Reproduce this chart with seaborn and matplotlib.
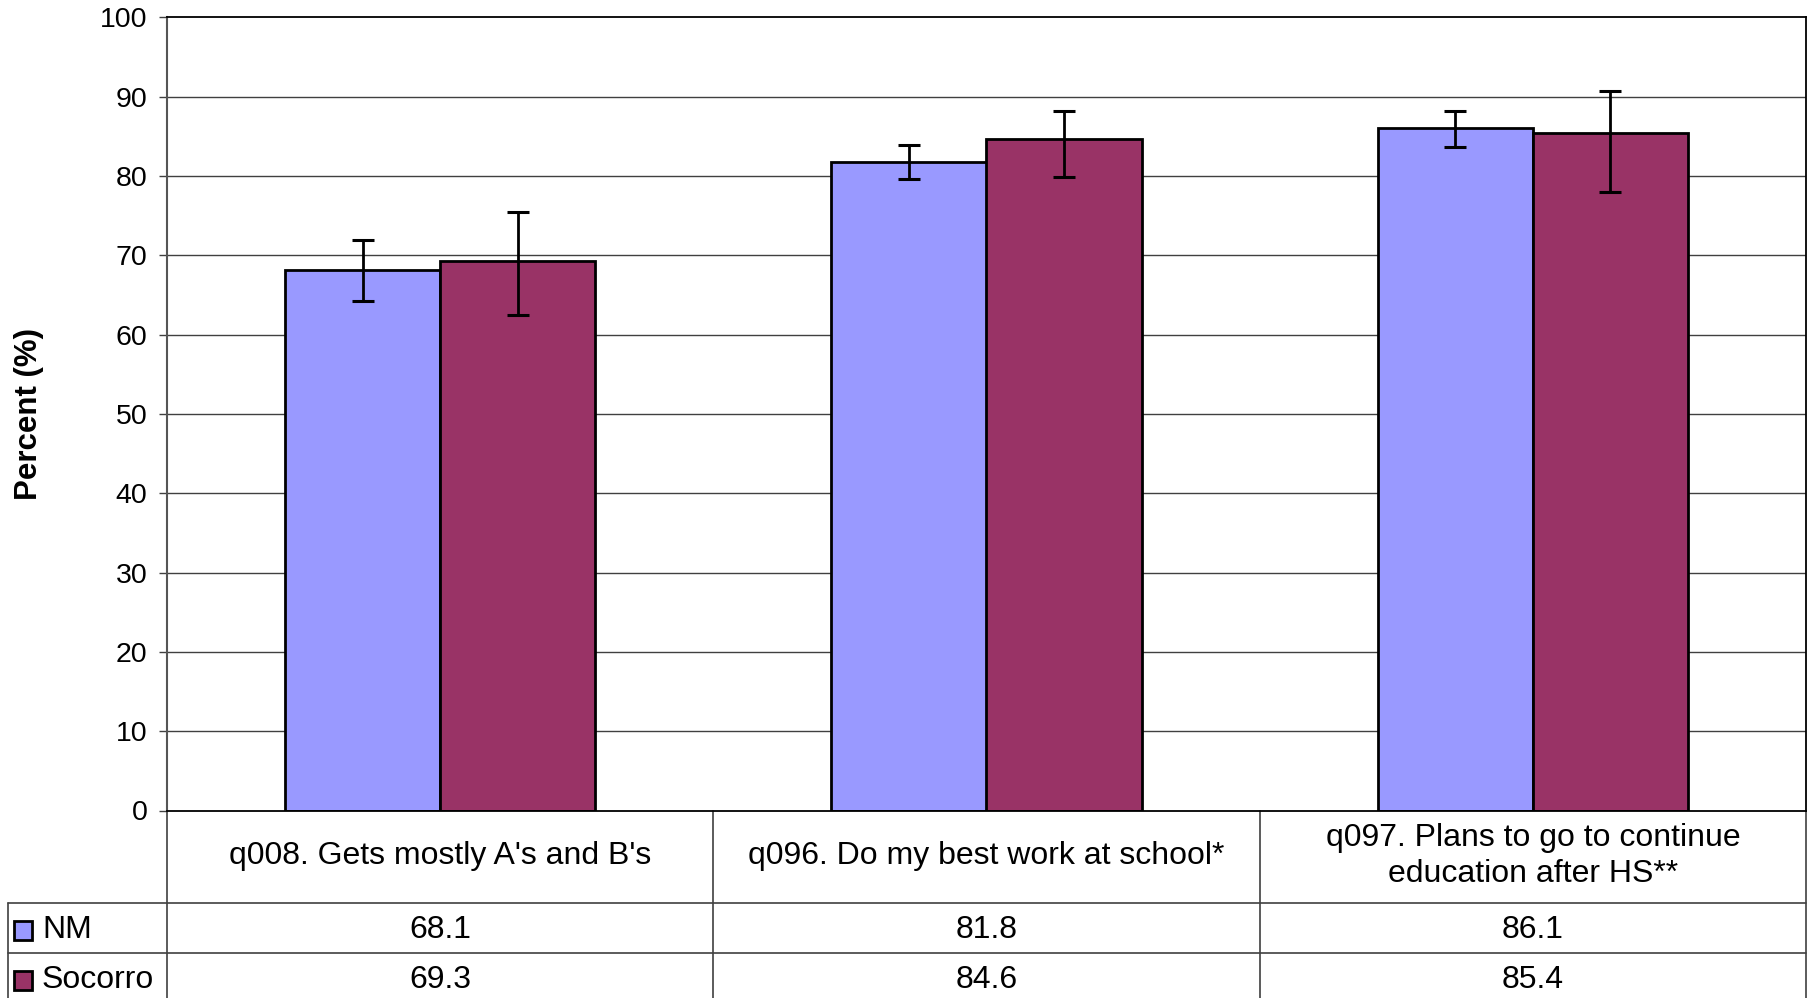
import numpy as np
import pandas as pd
import matplotlib.pyplot as plt
import seaborn as sns
from matplotlib.transforms import blended_transform_factory
from matplotlib.patches import Rectangle

categories = ["q008. Gets mostly A's and B's",
              "q096. Do my best work at school*",
              "q097. Plans to go to continue\neducation after HS**"]
groups = ["NM", "Socorro"]
nm_values = [68.1, 81.8, 86.1]
nm_lower = [64.2, 79.6, 83.7]
nm_upper = [71.9, 83.9, 88.2]
soc_values = [69.3, 84.6, 85.4]
soc_lower = [62.5, 79.9, 78.0]
soc_upper = [75.4, 88.2, 90.7]
colors = ["#9999FF", "#993366"]

df = pd.DataFrame({
    "category": categories * 2,
    "group": [groups[0]] * 3 + [groups[1]] * 3,
    "value": nm_values + soc_values,
    "lower": nm_lower + soc_lower,
    "upper": nm_upper + soc_upper,
})

sns.set_style("white")
plt.rcParams["font.family"] = ["Liberation Sans", "DejaVu Sans"]
plt.rcParams["text.color"] = "black"
plt.rcParams["axes.labelcolor"] = "black"
plt.rcParams["ytick.labelcolor"] = "black"

W, H = 1809, 998
fig = plt.figure(figsize=(W / 100, H / 100), dpi=100)
ax_left, ax_right, ax_top, ax_bot = 167, 1806, 17.3, 810.5
ax = fig.add_axes([ax_left / W, 1 - ax_bot / H, (ax_right - ax_left) / W, (ax_bot - ax_top) / H])

# grid first so bars sit on top
for v in range(10, 100, 10):
    ax.axhline(v, color="#404040", lw=1, zorder=0)

sns.barplot(data=df, x="category", y="value", hue="group", palette=colors,
            saturation=1, width=0.568, edgecolor="black", linewidth=2,
            errorbar=None, legend=False, ax=ax, zorder=2)

# error bars at bar centres
for i, p in enumerate(ax.patches[:6]):
    row = df.iloc[i]
    xc = p.get_x() + p.get_width() / 2
    ax.errorbar(xc, row["value"],
                yerr=[[row["value"] - row["lower"]], [row["upper"] - row["value"]]],
                fmt="none", ecolor="black", elinewidth=2, capsize=8, capthick=2.2, zorder=3)

ax.set_xlim(-0.5, 2.5)
ax.set_ylim(0, 100)
ax.set_yticks(range(0, 101, 10))
ax.tick_params(axis="y", direction="out", length=6, width=1, color="#404040",
               labelsize=20.5, pad=8, left=True)
ax.tick_params(axis="x", bottom=False, labelbottom=False)
ax.set_xlabel("")
ax.set_ylabel("Percent (%)", fontsize=22.5, fontweight="bold")
ax.yaxis.set_label_coords((44 - ax_left) / (ax_right - ax_left), 0.5)
for side in ["top", "right", "bottom"]:
    ax.spines[side].set_color("black")
    ax.spines[side].set_linewidth(1.3)
ax.spines["left"].set_color("#555555")
ax.spines["left"].set_linewidth(1.5)

# data table under the plot
trans = blended_transform_factory(ax.transData, fig.transFigure)
def fy(px):
    return 1 - px / H

leg_left = -0.5 - (ax_left - 8) / ((ax_right - ax_left) / 3)
line_kw = dict(transform=trans, clip_on=False, color="#404040", lw=1.2)
for xv in [-0.5, 0.5, 1.5, 2.5]:
    ax.plot([xv, xv], [fy(ax_bot), fy(H + 5)], **line_kw)
ax.plot([leg_left, leg_left], [fy(903), fy(H + 5)], **line_kw)
for yv in [903, 953]:
    ax.plot([leg_left, 2.5], [fy(yv), fy(yv)], **line_kw)

row_y = [930, 980]
for i, cat in enumerate(categories):
    ax.text(i, fy(856), cat, transform=trans, ha="center", va="center",
            fontsize=23, linespacing=1.3)
    ax.text(i, fy(row_y[0]), f"{nm_values[i]:.1f}", transform=trans,
            ha="center", va="center", fontsize=23)
    ax.text(i, fy(row_y[1]), f"{soc_values[i]:.1f}", transform=trans,
            ha="center", va="center", fontsize=23)

for g, c, yc in zip(groups, colors, row_y):
    fig.add_artist(Rectangle((14 / W, fy(yc + 10)), 18 / W, 19 / H,
                             transform=fig.transFigure, facecolor=c,
                             edgecolor="black", lw=2))
    fig.text(42 / W, fy(yc), g, ha="left", va="center", fontsize=23)

fig.savefig("out.png", dpi=100)
